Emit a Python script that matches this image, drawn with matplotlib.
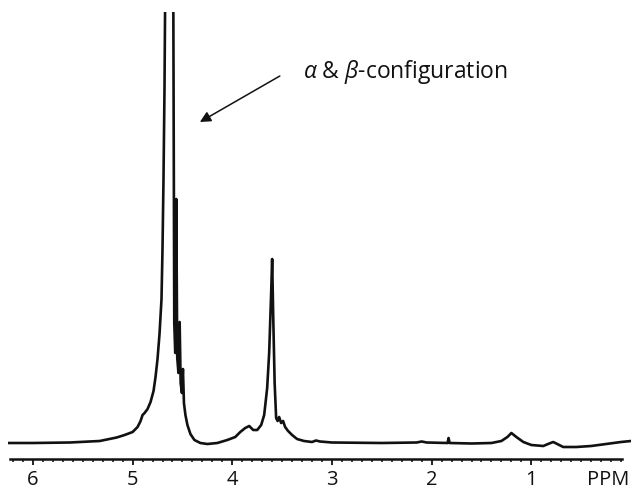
import matplotlib
matplotlib.use('Agg')
import matplotlib.pyplot as plt
import numpy as np
from matplotlib.ticker import FixedLocator

plt.rcParams['font.family'] = ['Open Sans', 'DejaVu Sans']
plt.rcParams['mathtext.fontset'] = 'custom'
plt.rcParams['mathtext.it'] = 'Open Sans:italic'
plt.rcParams['mathtext.rm'] = 'Open Sans'

# spectrum trace: chemical shift (ppm) and intensity (a.u.)
ppm = [6.25, 6.0, 5.63, 5.33, 5.16, 5.08, 5.0, 4.95, 4.92, 4.90, 4.88, 4.85,
       4.82, 4.79, 4.77, 4.75, 4.73, 4.71, 4.70, 4.69, 4.68, 4.665, 4.63, 4.595,
       4.582, 4.572, 4.562, 4.552, 4.540, 4.528, 4.518, 4.505, 4.495, 4.485,
       4.470, 4.45, 4.42, 4.38, 4.32, 4.25, 4.15, 4.05, 3.97, 3.92, 3.87, 3.83,
       3.79, 3.75, 3.71, 3.68, 3.65, 3.63, 3.61, 3.60, 3.59, 3.575, 3.56, 3.545,
       3.53, 3.51, 3.49, 3.47, 3.44, 3.40, 3.35, 3.28, 3.2, 3.16, 3.12, 3.0,
       2.5, 2.15, 2.1, 2.05, 1.84, 1.83, 1.82, 1.6, 1.4, 1.3, 1.24, 1.2, 1.15,
       1.08, 1.0, 0.88, 0.82, 0.78, 0.74, 0.68, 0.55, 0.4, 0.25, 0.1, 0.0]
intensity = [0, 0, 0.5, 2, 5.5, 8, 11, 16, 22, 28, 30, 34,
             41, 52, 66, 84, 109, 144, 194, 264, 354, 560, 470, 560,
             120, 90, 244, 85, 70, 121, 60, 50, 74, 40,
             28, 18, 9, 3, 0, -1, 0, 3, 6, 11, 15, 17,
             13, 13, 18, 28, 55, 90, 150, 184, 130, 60, 25, 22,
             26, 20, 22, 16, 12, 8, 4, 2, 1, 2.5, 1.5, 0.5,
             0, 0.5, 1.5, 0.5, 0, 5, 0, -0.5, 0, 2, 6, 10, 6,
             1, -2, -3, -0.5, 1, -1, -4, -4, -3, -1, 1, 2]

major_ticks = [1, 2, 3, 4, 5, 6]
tick_labels = ['1', '2', '3', '4', '5', '6']
unit_label = 'PPM'
label_text = r'$\alpha$ & $\beta$-configuration'

fig = plt.figure(figsize=(6.32, 4.89), dpi=100)
ax = fig.add_axes([8 / 632, 29 / 489, 623 / 632, 447 / 489])

ax.plot(ppm, intensity, color='#111111', lw=1.9, solid_joinstyle='round')

ax.set_xlim(6.25, 0.0)
ax.set_ylim(-16, 431)

for s in ['top', 'left', 'right']:
    ax.spines[s].set_visible(False)
ax.spines['bottom'].set_bounds(6.23, 0.09)
ax.spines['bottom'].set_linewidth(1.8)
ax.spines['bottom'].set_color('#111111')

ax.set_yticks([])
ax.xaxis.set_major_locator(FixedLocator(major_ticks))
ax.set_xticklabels(tick_labels)
ax.xaxis.set_minor_locator(FixedLocator(np.round(np.arange(0.1, 6.25, 0.1), 2)))
ax.tick_params(axis='x', which='major', length=4, width=1.3, color='#111111',
               labelsize=14.5, pad=3, labelcolor='#111111')
ax.tick_params(axis='x', which='minor', length=2.5, width=1.1, color='#111111')

ax.annotate(unit_label, xy=(0.23, 0), xycoords=('data', 'axes fraction'),
            xytext=(0, -7), textcoords='offset points', ha='center', va='top',
            fontsize=14.5, color='#111111')

ax.annotate('', xy=(4.325, 321), xytext=(3.523, 367),
            arrowprops=dict(arrowstyle='-|>', color='#111111', lw=1.1,
                            mutation_scale=16, shrinkA=0, shrinkB=0))
ax.text(3.29, 372, label_text, ha='left', va='center', fontsize=16.5,
        color='#111111')

fig.savefig('out.png', dpi=100)
